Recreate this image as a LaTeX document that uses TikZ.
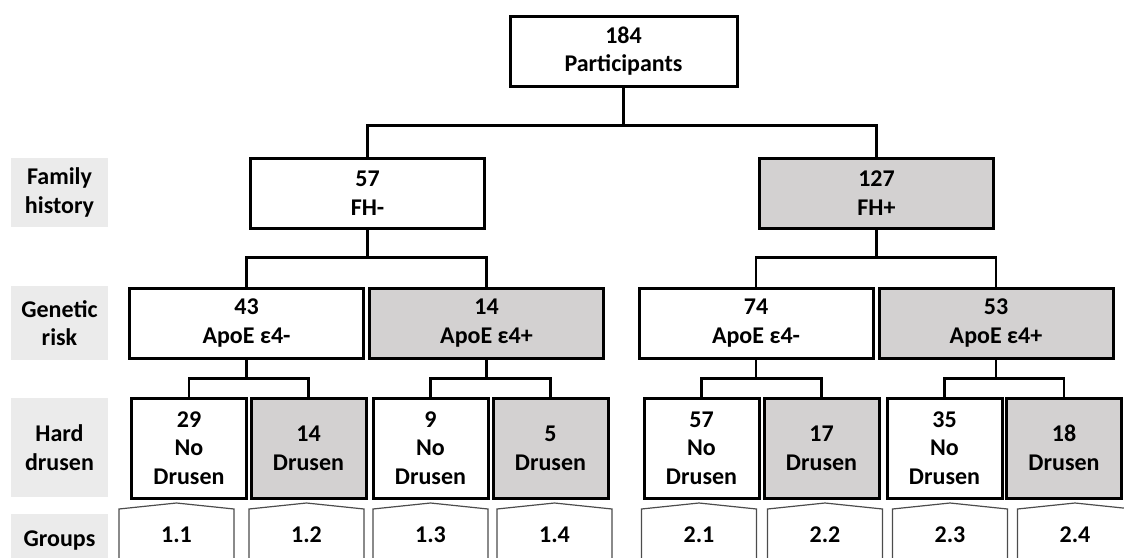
\documentclass[tikz,border=0pt]{standalone}
\usepackage{fontspec}
\setmainfont{Carlito}
\usepackage{xcolor}
\definecolor{d3d1d1}{HTML}{D3D1D1}
\definecolor{ebebeb}{HTML}{EBEBEB}
\usepackage{tikz}

\begin{document}
\begin{tikzpicture}[x=0.5pt, y=-0.5pt, font=\fontsize{12}{14.3}\selectfont\bfseries,
                    box/.style={rectangle, draw, line width=1.5pt, inner sep=0pt, align=center},
                    wide/.style={minimum width=117pt, minimum height=35pt},
                    narrow/.style={minimum width=57.5pt, minimum height=50pt},
                    tag/.style={rectangle, fill=ebebeb, inner sep=0pt, align=center, minimum width=48.5pt},
                    link/.style={line width=1.1pt},
                    grp/.style={draw=black!70, line width=0.6pt}]
                        \useasboundingbox (0, 0) rectangle (1124, 557);

                        \node (famhist) at (59.5, 192.5) [tag, minimum height=34.5pt] {Family\\history};
                        \node (genrisk) at (59.5, 323) [tag, minimum height=37pt] {Genetic\\risk};
                        \node (harddr) at (59.5, 447.5) [tag, minimum height=49.5pt] {Hard\\drusen};
                        \node (grplab) at (59.5, 541) [tag, minimum height=27pt] {Groups};

                        \node (all) at (623.5, 51) [box, minimum width=113.5pt, minimum height=35pt] {184\\Participants};
                        \node (fhneg) at (367.5, 193) [box, wide] {57\\FH-};
                        \node (fhpos) at (876.5, 193) [box, wide, fill=d3d1d1] {127\\FH+};

                        \node (apo1) at (246.5, 323) [box, wide] {43\\ApoE ε4-};
                        \node (apo2) at (486.5, 323) [box, wide, fill=d3d1d1] {14\\ApoE ε4+};
                        \node (apo3) at (756, 323) [box, wide] {74\\ApoE ε4-};
                        \node (apo4) at (996, 323) [box, wide, fill=d3d1d1] {53\\ApoE ε4+};

                        \node (dr11) at (189, 448) [box, narrow] {29\\No\\Drusen};
                        \node (dr12) at (308.5, 448) [box, narrow, fill=d3d1d1] {14\\Drusen};
                        \node (dr13) at (430.5, 448) [box, narrow] {9\\No\\Drusen};
                        \node (dr14) at (550.5, 448) [box, narrow, fill=d3d1d1] {5\\Drusen};
                        \node (dr21) at (701.5, 448) [box, narrow] {57\\No\\Drusen};
                        \node (dr22) at (821.5, 448) [box, narrow, fill=d3d1d1] {17\\Drusen};
                        \node (dr23) at (944.5, 448) [box, narrow] {35\\No\\Drusen};
                        \node (dr24) at (1064, 448) [box, narrow, fill=d3d1d1] {18\\Drusen};

                        \draw[link, line width=1.4pt] (all.south) -- ++(0, 38) -| (fhneg.north);
                        \draw[link, line width=1.4pt] (all.south) -- ++(0, 38) -| (fhpos.north);
                        \draw[link] (fhneg.south) -- ++(0, 28) -| (apo1.north);
                        \draw[link] (fhneg.south) -- ++(0, 28) -| (apo2.north);
                        \draw[link] (fhpos.south) -- ++(0, 28) -| (apo3.north);
                        \draw[link] (fhpos.south) -- ++(0, 28) -| (apo4.north);
                        \draw[link] (apo1.south) -- ++(0, 19) -| (dr11.north);
                        \draw[link] (apo1.south) -- ++(0, 19) -| (dr12.north);
                        \draw[link] (apo2.south) -- ++(0, 19) -| (dr13.north);
                        \draw[link] (apo2.south) -- ++(0, 19) -| (dr14.north);
                        \draw[link] (apo3.south) -- ++(0, 19) -| (dr21.north);
                        \draw[link] (apo3.south) -- ++(0, 19) -| (dr22.north);
                        \draw[link] (apo4.south) -- ++(0, 19) -| (dr23.north);
                        \draw[link] (apo4.south) -- ++(0, 19) -| (dr24.north);

                        % group tabs, open at the bottom
                        \foreach \cx/\lab/\nm in {176.5/1.1/g11, 306.5/1.2/g12, 430.5/1.3/g13, 554.5/1.4/g14,
                                                  699/2.1/g21, 825/2.2/g22, 950/2.3/g23, 1075/2.4/g24} {
                            \draw[grp] (\cx-57.5, 580) -- (\cx-57.5, 509) -- (\cx, 503) -- (\cx+57.5, 509) -- (\cx+57.5, 580);
                            \node (\nm) at (\cx, 535) {\lab};
                        }
                    \end{tikzpicture}
\end{document}
